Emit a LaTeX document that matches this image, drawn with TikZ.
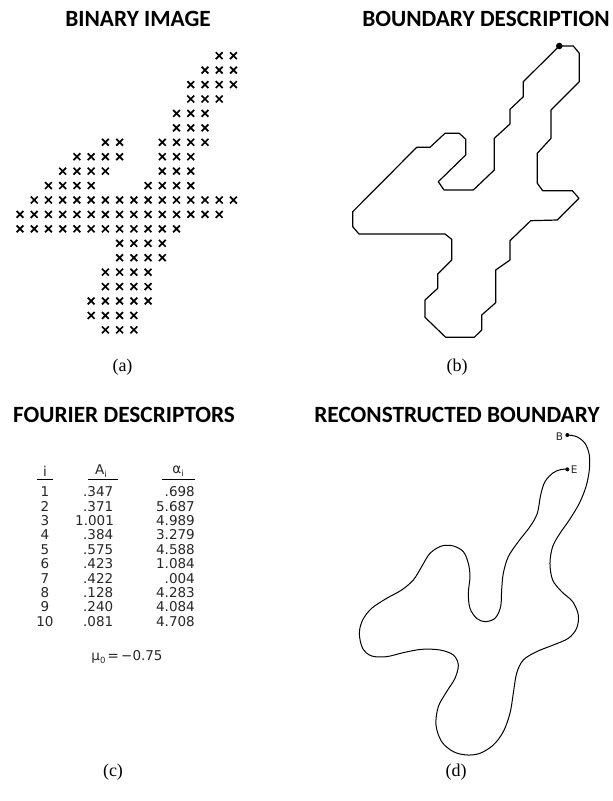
\documentclass[tikz,border=0pt]{standalone}
\usepackage{fontspec}
\setmainfont{Liberation Serif}
\newfontfamily\headfont{Carlito}
\newfontfamily\tabfont{DejaVu Sans}
\newcommand{\lowsub}[1]{\raisebox{-2.5pt}{\fontsize{8.5}{9}\selectfont #1}}
\tikzset{
  head/.style={font=\headfont\bfseries\fontsize{23.3}{24}\selectfont, inner sep=0pt},
  capt/.style={font=\fontsize{18}{18}\selectfont, inner sep=0pt},
  tab/.style={font=\tabfont\fontsize{13.5}{14}\selectfont, inner sep=0pt, text=black!85},
  xmark/.style={line width=1.7pt},
  bnd/.style={line width=1.2pt, line join=round},
  rec/.style={line width=1pt},
  uline/.style={line width=0.8pt},
}
\begin{document}
\begin{tikzpicture}[x=1pt,y=-1pt]
\path[use as bounding box] (0,0) rectangle (613,801);

% headings
\node[head] (h1) at (138,19) {BINARY IMAGE};
\node[head] (h2) at (486,19) {BOUNDARY DESCRIPTION};
\node[head] (h3) at (124,415) {FOURIER DESCRIPTORS};
\node[head] (h4) at (457,415) {RECONSTRUCTED BOUNDARY};

% captions
\node[capt] (ca) at (122.5,367) {(a)};
\node[capt] (cb) at (457,367) {(b)};
\node[capt] (cc) at (113,772) {(c)};
\node[capt] (cd) at (456,772) {(d)};

% (a) binary image
\foreach \r/\a/\b in {0/14/15, 1/13/15, 2/12/15, 3/12/14, 4/11/13, 5/11/13,
  6/6/7, 6/10/13, 7/4/7, 7/10/12, 8/3/6, 8/10/12, 9/2/5, 9/9/12,
  10/1/15, 11/0/14, 12/0/11, 13/7/10, 14/7/10, 15/6/9, 16/6/9,
  17/5/9, 18/5/8, 19/6/8} {
  \foreach \c in {\a,...,\b} {
    \draw[xmark] ({20+14.23*\c-3.4},{55.7+14.43*\r-3.4}) -- ++(6.8,6.8)
                 ({20+14.23*\c-3.4},{55.7+14.43*\r+3.4}) -- ++(6.8,-6.8);
  }
}

% (b) boundary description
\coordinate (start) at (559.3,46);
\draw[bnd] (start) -- (573.3,46) -- (579.3,53.3) -- (579.3,81.7) -- (551,110)
  -- (551,138.3) -- (537.3,153.3) -- (537.3,183.3) -- (542.7,190.7)
  -- (572.3,190.7) -- (579,198.3) -- (557.3,220) -- (530.7,220.7)
  -- (510,240.7) -- (510,260) -- (495.7,270) -- (495.7,302.7)
  -- (481.7,315) -- (481.7,330) -- (474.3,337.3) -- (445.7,337.3)
  -- (425,317.3) -- (425,300) -- (437.7,288.3) -- (437.7,274)
  -- (451.7,260) -- (451.7,239.3) -- (445,234) -- (359,234)
  -- (352.7,226.7) -- (352.7,211.7) -- (416.7,147.3) -- (430,147.3)
  -- (445,133.3) -- (459.3,133.3) -- (465.7,139.3) -- (465.7,155)
  -- (438.3,181.7) -- (444,190) -- (473.3,190) -- (494.3,170)
  -- (494.3,138.3) -- (510,124) -- (510,109.3) -- (523.3,96.7)
  -- (523.3,81.7) -- cycle;
\fill (start) circle (3.3pt);

% (c) Fourier descriptors table
\node[tab] (ti) at (45,471) {i};
\node[tab] (ta) at (101,471) {A\lowsub{i}};
\node[tab] (tal) at (178,471) {α\lowsub{i}};
\draw[uline] (37,479) -- (53,479);
\draw[uline] (88,479) -- (118,479);
\draw[uline] (162,479) -- (195,479);
\foreach \k/\A/\ax/\al in {1/.347/83/.698, 2/.371/83/5.687, 3/1.001/75/4.989,
  4/.384/83/3.279, 5/.575/83/4.588, 6/.423/83/1.084, 7/.422/83/.004,
  8/.128/83/4.283, 9/.240/83/4.084, 10/.081/83/4.708} {
  \node[tab] (n\k) at (45,{491.7+14.4*(\k-1)}) {\k};
  \node[tab, anchor=west] (a\k) at (\ax,{491.7+14.4*(\k-1)}) {\A};
  \node[tab, anchor=east] (b\k) at (195,{491.7+14.4*(\k-1)}) {\al};
}
\node[tab] (mu) at (127,657) {μ\lowsub{0}\,=\,−0.75};

% (d) reconstructed boundary
\begin{scope}[shift={(330,420)}, x=0.3333pt, y=-0.3333pt]
\coordinate (B) at (712,45);
\coordinate (E) at (712,148);
\draw[rec] plot[smooth, tension=0.55] coordinates {
 (712,45) (740,50) (765,70) (778,105) (778,150) (768,200) (748,250) (718,300)
 (690,340) (668,380) (660,430) (668,480) (695,515) (728,545) (745,585)
 (740,625) (715,655) (670,675) (620,695) (580,720) (560,760) (550,820)
 (540,880) (520,935) (490,975) (450,1000) (410,1005) (370,995) (335,965)
 (318,915) (325,860) (350,815) (375,775) (385,735) (370,705) (330,690)
 (275,688) (220,698) (170,710) (125,708) (98,685) (88,640) (98,600)
 (125,565) (170,535) (215,510) (250,480) (275,440) (300,400) (335,378)
 (370,378) (400,395) (415,430) (420,470) (415,520) (420,565) (440,595)
 (465,605) (495,595) (512,560) (515,510) (520,460) (535,410) (565,365)
 (600,320) (622,280) (632,225) (645,185) (670,158) (695,148) (712,148)};
\fill (B) circle (2pt);
\fill (E) circle (2pt);
\node[tab, font=\tabfont\fontsize{10.5}{11}\selectfont, anchor=east] (lb) at (700,50) {B};
\node[tab, font=\tabfont\fontsize{10.5}{11}\selectfont, anchor=west] (le) at (722,150) {E};
\end{scope}
\end{tikzpicture}
\end{document}
